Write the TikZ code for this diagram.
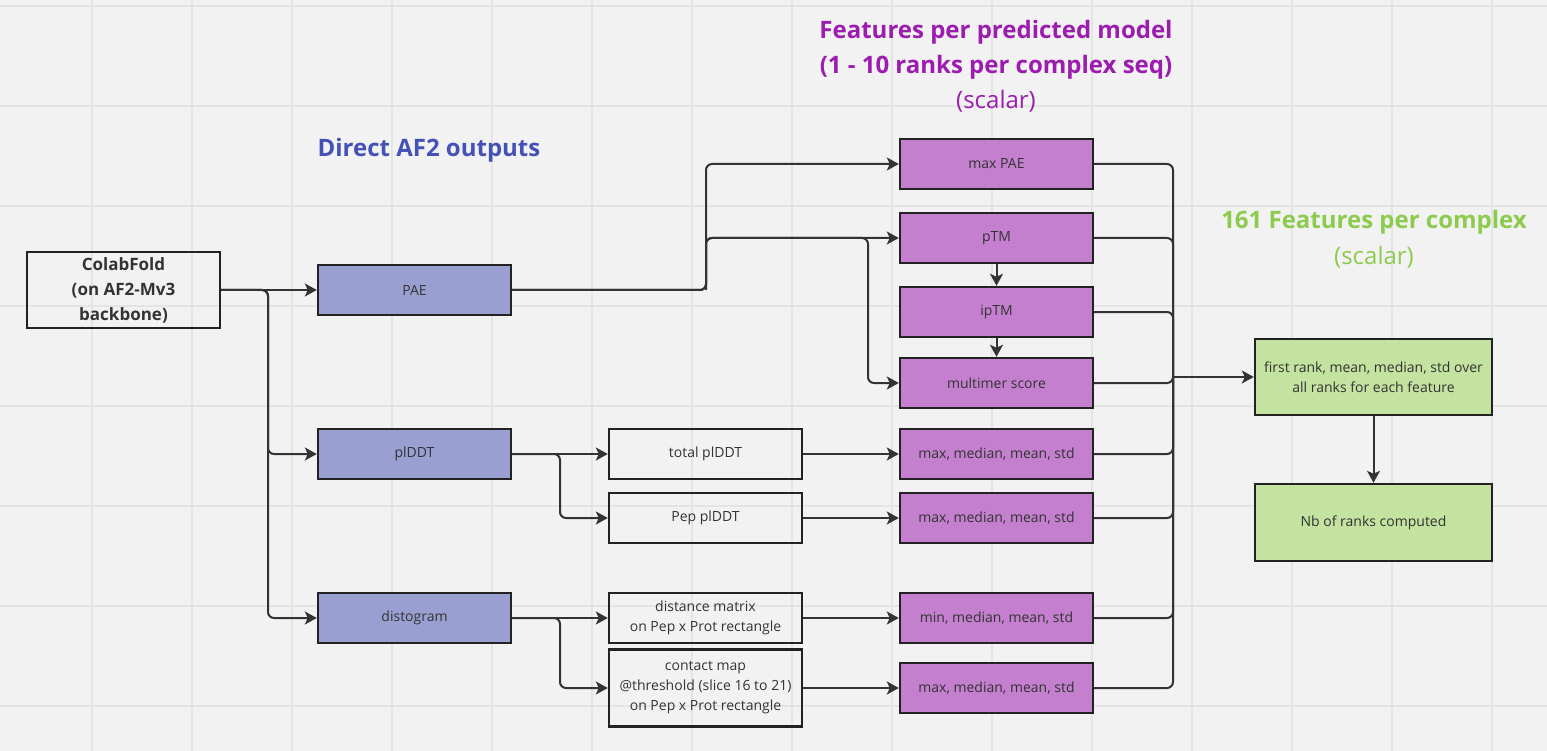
\documentclass[tikz,border=0pt]{standalone}
\usepackage{fontspec}
\setmainfont{Open Sans}
\usetikzlibrary{arrows.meta}
\definecolor{bg}{HTML}{F2F2F2}
\definecolor{gridc}{HTML}{E4E4E4}
\definecolor{bluef}{HTML}{9A9FD2}
\definecolor{purplef}{HTML}{C47FCF}
\definecolor{greenf}{HTML}{C4E2A0}
\definecolor{edge}{HTML}{222222}
\definecolor{linec}{HTML}{333333}
\definecolor{txt}{HTML}{333333}
\definecolor{hblue}{HTML}{4452B8}
\definecolor{hpurple}{HTML}{9C1CB0}
\definecolor{hgreen}{HTML}{8CCB4E}
\tikzset{
  box/.style={draw=edge, line width=2.4pt, minimum width=193pt, minimum height=50pt,
    inner sep=0pt, align=center, text=txt, font=\fontsize{14}{20}\selectfont},
  bluebox/.style={box, fill=bluef},
  purplebox/.style={box, fill=purplef},
  whitebox/.style={box},
  greenbox/.style={box, fill=greenf, minimum width=237pt},
  conn/.style={draw=linec, line width=2pt, rounded corners=6pt,
    -{Stealth[length=12pt,width=13pt,inset=3pt]}},
  wire/.style={draw=linec, line width=2pt, rounded corners=6pt},
  head/.style={align=center, font=\bfseries\fontsize{24}{35}\selectfont}
}
\begin{document}
\begin{tikzpicture}[x=1pt,y=-1pt]
\fill[bg] (0,0) rectangle (1547,751);
\useasboundingbox (0,0) rectangle (1547,751);
\foreach \gx in {92,192,...,1492} \draw[gridc, line width=1.3pt] (\gx,0) -- (\gx,751);
\foreach \gy in {6,106,...,706} \draw[gridc, line width=1.3pt] (0,\gy) -- (1547,\gy);

% headers
\node[head, text=hblue] (hdirect) at (429,150) {Direct AF2 outputs};
\node[head, text=hpurple] (hfeat) at (996,66) {Features per predicted model\\(1 - 10 ranks per complex seq)\\\mdseries (scalar)};
\node[head, text=hgreen, font=\bfseries\fontsize{24}{36}\selectfont] (hcomplex) at (1374,239) {161 Features per complex\\\mdseries (scalar)};

% left
\node[whitebox, minimum height=76pt, font=\bfseries\fontsize{17}{25}\selectfont] (colab) at (123.5,290) {ColabFold\\(on AF2-Mv3\\backbone)};
\node[bluebox] (pae) at (414.5,290) {PAE};
\node[bluebox] (plddt) at (414.5,454) {plDDT};
\node[bluebox] (disto) at (414.5,618) {distogram};

% middle white
\node[whitebox] (total) at (705.5,454) {total plDDT};
\node[whitebox] (pep) at (705.5,518) {Pep plDDT};
\node[whitebox] (dist) at (705.5,618) {distance matrix\\on Pep x Prot rectangle};
\node[whitebox, minimum height=77pt] (contact) at (705.5,688) {contact map\\@threshold (slice 16 to 21)\\on Pep x Prot rectangle};

% purple
\node[purplebox] (maxpae) at (996.5,164) {max PAE};
\node[purplebox] (ptm) at (996.5,238) {pTM};
\node[purplebox] (iptm) at (996.5,312) {ipTM};
\node[purplebox] (multi) at (996.5,383) {multimer score};
\node[purplebox] (s1) at (996.5,454) {max, median, mean, std};
\node[purplebox] (s2) at (996.5,518) {max, median, mean, std};
\node[purplebox] (s3) at (996.5,618) {min, median, mean, std};
\node[purplebox] (s4) at (996.5,688) {max, median, mean, std};

% green
\node[greenbox, minimum height=76pt] (first) at (1373.5,377) {first rank, mean, median, std over\\all ranks for each feature};
\node[greenbox, minimum height=77pt] (nb) at (1373.5,522.5) {Nb of ranks computed};

% bend coordinates
\coordinate (b1) at (268,290);
\coordinate (b2) at (706,290);
\coordinate (b3) at (868,238);
\coordinate (b4) at (560,454);
\coordinate (b5) at (560,618);
\coordinate (bus) at (1173,377);

% connectors
\draw[conn] (colab.east) -- (pae.west);
\draw[conn] (colab.east) -- (b1) |- (plddt.west);
\draw[conn] (colab.east) -- (b1) |- (disto.west);
\draw[conn] (pae.east) -- (b2) |- (maxpae.west);
\draw[conn] (pae.east) -- (b2) |- (ptm.west);
\draw[conn] (b2) |- (b3) |- (multi.west);
\draw[conn] (ptm.south) -- (iptm.north);
\draw[conn] (iptm.south) -- (multi.north);
\draw[conn] (plddt.east) -- (total.west);
\draw[conn] (plddt.east) -- (b4) |- (pep.west);
\draw[conn] (disto.east) -- (dist.west);
\draw[conn] (disto.east) -- (b5) |- (contact.west);
\draw[conn] (total.east) -- (s1.west);
\draw[conn] (pep.east) -- (s2.west);
\draw[conn] (dist.east) -- (s3.west);
\draw[conn] (contact.east) -- (s4.west);
\foreach \n in {maxpae,ptm,iptm,multi,s1,s2,s3,s4} \draw[wire] (\n.east) -| (bus);
\draw[conn] (bus) -- (first.west);
\draw[conn] (first.south) -- (nb.north);
\end{tikzpicture}
\end{document}
